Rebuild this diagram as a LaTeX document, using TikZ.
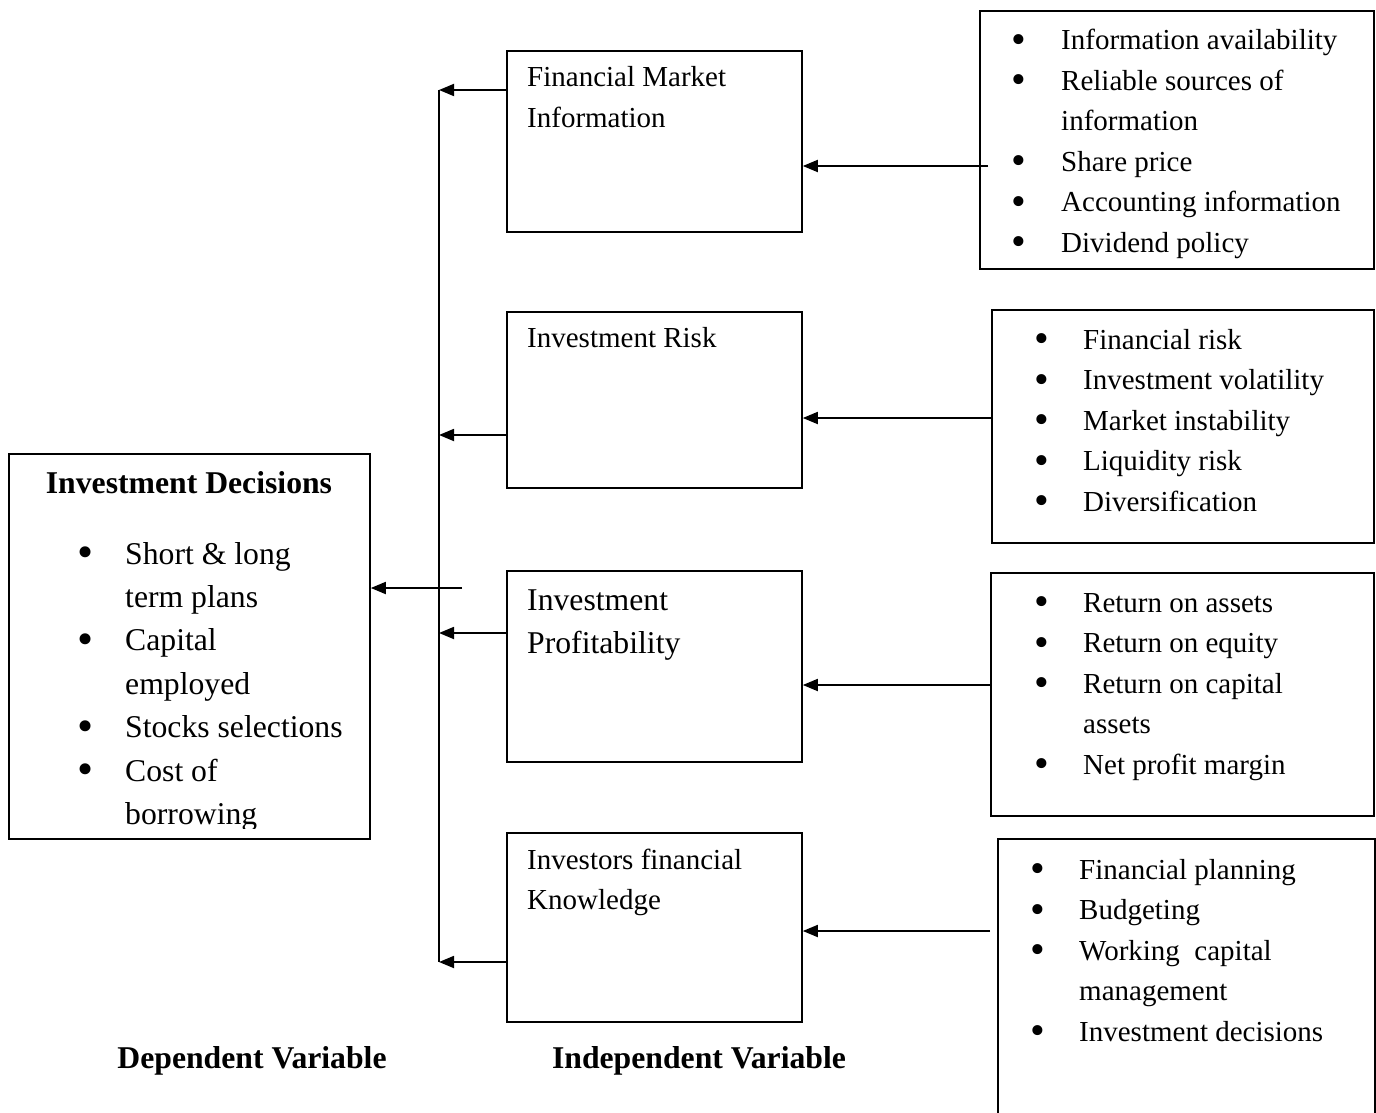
\documentclass[tikz,border=0pt]{standalone}
\usepackage{fontspec}
\setmainfont{Liberation Serif}
\usepackage{graphicx}
\usetikzlibrary{arrows.meta}
\newcommand{\bodyfont}{\fontsize{29}{40.5}\selectfont}
\newcommand{\bigfont}{\fontsize{31.7}{43.4}\selectfont}
\newcommand{\bul}{\makebox[0pt]{\raisebox{-3.5pt}{\scalebox{1.45}{\textbullet}}}}
\begin{document}
\begin{tikzpicture}[x=1pt,y=-1pt,
  box/.style={draw, line width=1.8pt, inner sep=0pt, anchor=north west},
  txt/.style={inner sep=0pt, anchor=base west, font=\bodyfont},
  bigtxt/.style={inner sep=0pt, anchor=base west, font=\bigfont},
  lbl/.style={inner sep=0pt, anchor=base, font=\bigfont\bfseries},
  arr/.style={-{Triangle[length=15pt,width=12pt]}, line width=1.8pt},
  ln/.style={line width=1.8pt}]
\useasboundingbox (0,0) rectangle (1376,1113);

% left box
\node[box, minimum width=361pt, minimum height=385pt] (dec) at (8,453) {};
% middle boxes
\node[box, minimum width=295pt, minimum height=181pt] (fmi) at (506,50) {};
\node[box, minimum width=295pt, minimum height=176pt] (risk) at (506,311) {};
\node[box, minimum width=295pt, minimum height=191pt] (prof) at (506,570) {};
\node[box, minimum width=295pt, minimum height=189pt] (know) at (506,832) {};
% right boxes
\node[box, minimum width=394pt, minimum height=258pt] (r1) at (979,10) {};
\node[box, minimum width=382pt, minimum height=233pt] (r2) at (991,309) {};
\node[box, minimum width=383pt, minimum height=243pt] (r3) at (990,572) {};
\node[box, minimum width=377pt, minimum height=290pt] (r4) at (997,838) {};

% texts
\node[lbl] (dectitle) at (189,493) {Investment Decisions};
\begin{scope}
\clip (0,440) rectangle (400,828);
\node[bigtxt] (declist) at (85,564) {\begin{tabular}[t]{@{}l@{\hspace{40pt}}l@{}}
\bul & Short \& long\\
 & term plans\\
\bul & Capital\\
 & employed\\
\bul & Stocks selections\\
\bul & Cost of\\
 & borrowing
\end{tabular}};
\end{scope}

\node[txt] (fmitext) at (527,87) {\begin{tabular}[t]{@{}l@{}}Financial Market\\Information\end{tabular}};
\node[txt] (risktext) at (527,347) {Investment Risk};
\node[bigtxt] (proftext) at (527,610) {\begin{tabular}[t]{@{}l@{}}Investment\\Profitability\end{tabular}};
\node[txt] (knowtext) at (527,869) {\begin{tabular}[t]{@{}l@{}}Investors financial\\Knowledge\end{tabular}};

\node[txt] (r1text) at (1019,50) {\begin{tabular}[t]{@{}l@{\hspace{42pt}}l@{}}
\bul & Information availability\\
\bul & Reliable sources of\\
 & information\\
\bul & Share price\\
\bul & Accounting information\\
\bul & Dividend policy
\end{tabular}};
\node[txt] (r2text) at (1042,349) {\begin{tabular}[t]{@{}l@{\hspace{41pt}}l@{}}
\bul & Financial risk\\
\bul & Investment volatility\\
\bul & Market instability\\
\bul & Liquidity risk\\
\bul & Diversification
\end{tabular}};
\node[txt] (r3text) at (1042,612) {\begin{tabular}[t]{@{}l@{\hspace{41pt}}l@{}}
\bul & Return on assets\\
\bul & Return on equity\\
\bul & Return on capital\\
 & assets\\
\bul & Net profit margin
\end{tabular}};
\node[txt] (r4text) at (1038,879) {\begin{tabular}[t]{@{}l@{\hspace{41pt}}l@{}}
\bul & Financial planning\\
\bul & Budgeting\\
\bul & Working\ \ capital\\
 & management\\
\bul & Investment decisions
\end{tabular}};

\node[lbl] (dep) at (252,1068) {Dependent Variable};
\node[lbl] (indep) at (699,1068) {Independent Variable};

% connectors
\coordinate (vtop) at (439,90);
\coordinate (vbot) at (439,962);
\coordinate (v2) at (439,435);
\coordinate (v3) at (439,633);
\coordinate (mstart) at (462,588);
\draw[ln] (vtop) -- (vbot);
\draw[arr] (fmi.west |- vtop) -- (vtop);
\draw[arr] (risk.west |- v2) -- (v2);
\draw[arr] (prof.west |- v3) -- (v3);
\draw[arr] (know.west |- vbot) -- (vbot);
\draw[arr] (mstart) -- (dec.east |- mstart);

\coordinate (s1) at (988,166);
\coordinate (s2) at (993,418);
\coordinate (s3) at (990,685);
\coordinate (s4) at (990,931);
\draw[arr] (s1) -- (fmi.east |- s1);
\draw[arr] (s2) -- (risk.east |- s2);
\draw[arr] (s3) -- (prof.east |- s3);
\draw[arr] (s4) -- (know.east |- s4);
\end{tikzpicture}
\end{document}
